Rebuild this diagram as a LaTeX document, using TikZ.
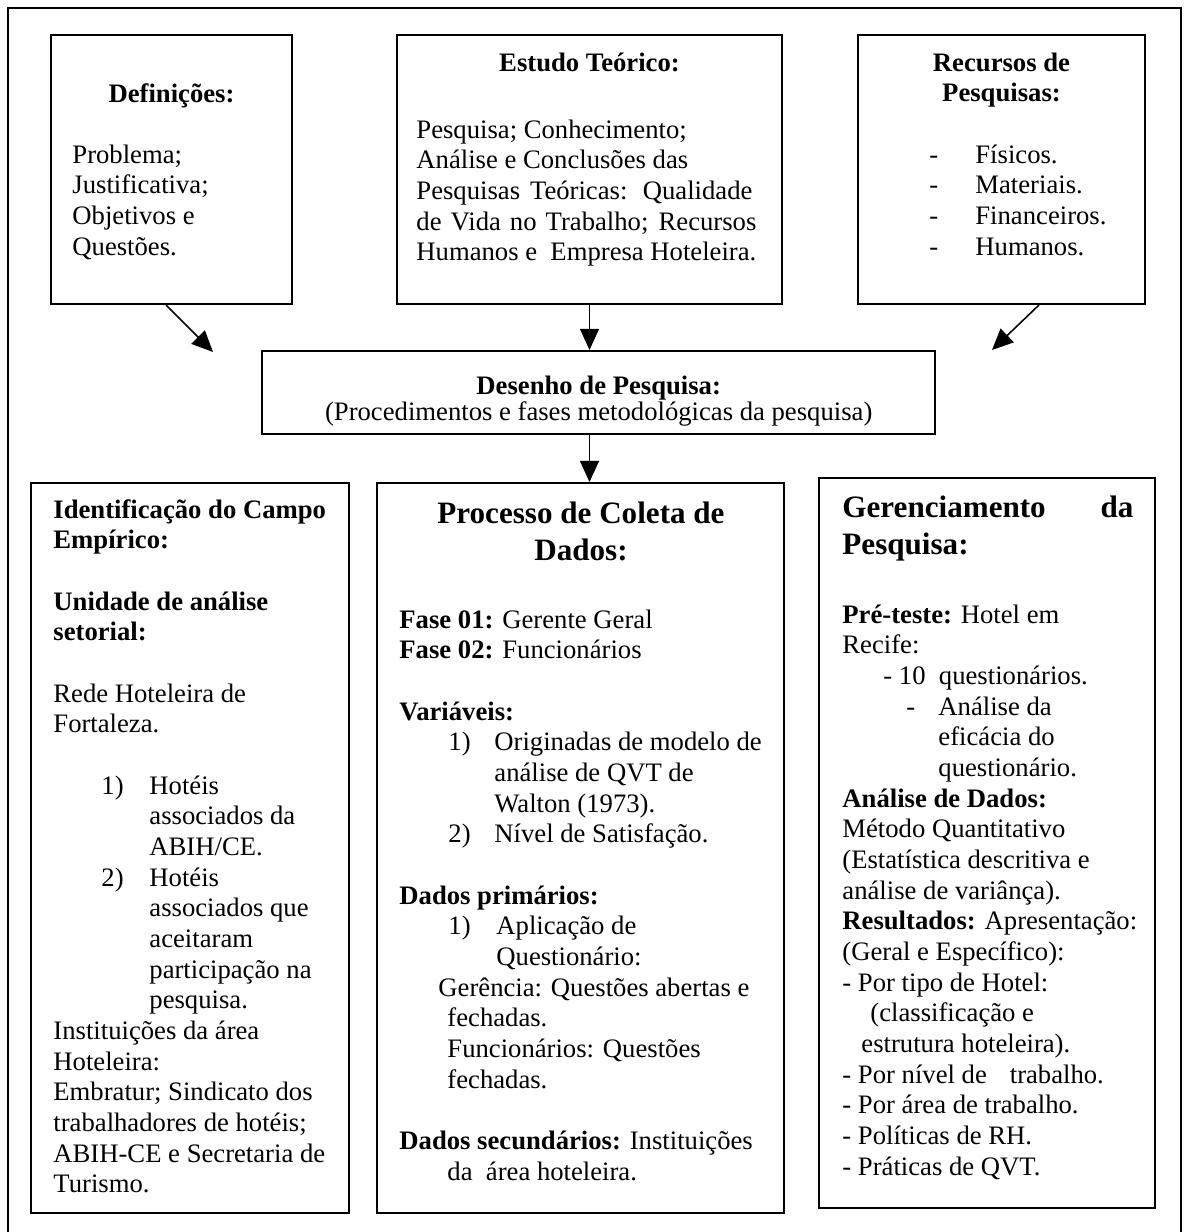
\documentclass[tikz,border=0pt]{standalone}
\usepackage{fontspec}
\setmainfont{Liberation Serif}
\usetikzlibrary{arrows.meta,fit,calc}
\newlength\pxu
\setlength\pxu{0.45pt}
\tikzset{
  boxline/.style={draw, line width=0.9pt, inner sep=0pt},
  txt/.style={anchor=base west, inner sep=0pt, font=\fontsize{12}{13.8}\selectfont},
  ttl/.style={anchor=base, inner sep=0pt, font=\fontsize{12}{13.8}\selectfont\bfseries},
  bigttl/.style={inner sep=0pt, font=\fontsize{14}{16.1}\selectfont\bfseries},
  arr/.style={line width=0.7pt, -{Triangle[length=9.5pt,width=8.5pt]}},
  frameline/.style={line width=0.9pt},
}
\newcommand\tlines[4]{\foreach \lineT [count=\lineI] in {#4} {\node[txt] (#1-\lineI) at (#2,{#3+(\lineI-1)*30.667}) {\lineT};}}
\begin{document}
\begin{tikzpicture}[x=0.45pt,y=-0.45pt]
\useasboundingbox (0,0) rectangle (1185,1232);
\draw[frameline] (8,1232) -- (8,7.5) -- (1181,7.5) -- (1181,1232);

% boxes
\node[boxline, fit={(51,35) (292,304)}] (def) {};
\node[boxline, fit={(397,35) (782,304)}] (est) {};
\node[boxline, fit={(858,35) (1145,304)}] (rec) {};
\node[boxline, fit={(262,351) (935,434)}] (des) {};
\node[boxline, fit={(31,483) (349,1213)}] (ide) {};
\node[boxline, fit={(377,483) (784,1213)}] (col) {};
\node[boxline, fit={(819,478) (1155,1208)}] (ger) {};

% connectors
\coordinate (defTip) at (213,352);
\coordinate (recTip) at (992,350);
\draw[arr] ($(def.south west)+(116,0)$) -- (defTip);
\draw[arr] ($(rec.south west)+(182,0)$) -- (recTip);
\draw[arr] (est.south) -- (est.south |- des.north);
\draw[arr] (est.south |- des.south) -- (est.south |- col.north);

% Definicoes
\node[ttl] (defT) at (171.5,102) {Definições:};
\tlines{defL}{72}{163}{{Problema;},{Justificativa;},{Objetivos e},{Questões.}}

% Estudo Teorico
\node[ttl] (estT) at (589.5,71) {Estudo Teórico:};
\tlines{estL}{416}{138}{{Pesquisa; Conhecimento;},{Análise e Conclusões das},{\makebox[336\pxu][s]{Pesquisas Teóricas: Qualidade}},{\makebox[340\pxu][s]{de Vida no Trabalho; Recursos}},{Humanos e\ \ Empresa Hoteleira.}}

% Recursos
\node[ttl] (recT1) at (1001.5,71) {Recursos de};
\node[ttl] (recT2) at (1001.5,101) {Pesquisas:};
\tlines{recL}{929}{163}{{\makebox[46\pxu][l]{-}Físicos.},{\makebox[46\pxu][l]{-}Materiais.},{\makebox[46\pxu][l]{-}Financeiros.},{\makebox[46\pxu][l]{-}Humanos.}}

% Desenho
\node[ttl] (desT) at (598.7,394) {Desenho de Pesquisa:};
\node[txt, anchor=base] (desS) at (598.7,420) {(Procedimentos e fases metodológicas da pesquisa)};

% Identificacao
\tlines{ideA}{53}{518}{{\textbf{Identificação do Campo}},{\textbf{Empírico:}}}
\tlines{ideB}{53}{610}{{\textbf{Unidade de análise}},{\textbf{setorial:}}}
\tlines{ideC}{53}{702}{{Rede Hoteleira de},{Fortaleza.}}
\tlines{ideD}{53}{794}{{\hspace*{48\pxu}\makebox[48\pxu][l]{1)}Hotéis},{\hspace*{96\pxu}associados da},{\hspace*{96\pxu}ABIH/CE.},{\hspace*{48\pxu}\makebox[48\pxu][l]{2)}Hotéis},{\hspace*{96\pxu}associados que},{\hspace*{96\pxu}aceitaram},{\hspace*{96\pxu}participação na},{\hspace*{96\pxu}pesquisa.},{Instituições da área},{Hoteleira:},{Embratur; Sindicato dos},{trabalhadores de hotéis;},{ABIH-CE e Secretaria de},{Turismo.}}

% Processo de Coleta
\node[bigttl, anchor=base] (colT1) at (581,523) {Processo de Coleta de};
\node[bigttl, anchor=base] (colT2) at (581,560) {Dados:};
\tlines{colA}{399}{628}{{\textbf{Fase 01:} Gerente Geral},{\textbf{Fase 02:} Funcionários}}
\tlines{colB}{399}{720}{{\textbf{Variáveis:}},{\hspace*{49\pxu}\makebox[46\pxu][l]{1)}Originadas de modelo de},{\hspace*{95\pxu}análise de QVT de},{\hspace*{95\pxu}Walton (1973).},{\hspace*{49\pxu}\makebox[46\pxu][l]{2)}Nível de Satisfação.}}
\tlines{colC}{399}{904}{{\textbf{Dados primários:}},{\hspace*{49\pxu}\makebox[48\pxu][l]{1)}Aplicação de},{\hspace*{97\pxu}Questionário:},{\hspace*{39\pxu}Gerência: Questões abertas e},{\hspace*{48\pxu}fechadas.},{\hspace*{48\pxu}Funcionários: Questões},{\hspace*{48\pxu}fechadas.}}
\tlines{colD}{399}{1149.4}{{\textbf{Dados secundários:} Instituições},{\hspace*{48\pxu}da\ \ área hoteleira.}}

% Gerenciamento
\node[bigttl, anchor=base west] (gerT1) at (842,517) {\makebox[291\pxu][s]{Gerenciamento da}};
\node[bigttl, anchor=base west] (gerT2) at (842,554) {Pesquisa:};
\tlines{gerL}{842}{623}{{\textbf{Pré-teste:} Hotel em},{Recife:},{\hspace*{41\pxu}-\ 10\ \ questionários.},{\hspace*{64\pxu}\makebox[32\pxu][l]{-}Análise da},{\hspace*{96\pxu}eficácia do},{\hspace*{96\pxu}questionário.},{\textbf{Análise de Dados:}},{Método Quantitativo},{(Estatística descritiva e},{análise de variânça).},{\textbf{Resultados:} Apresentação:},{(Geral e Específico):},{- Por tipo de Hotel:},{\hspace*{28\pxu}(classificação e},{\hspace*{19\pxu}estrutura hoteleira).},{- Por nível de\hspace{23\pxu}trabalho.},{- Por área de trabalho.},{- Políticas de RH.},{- Práticas de QVT.}}
\end{tikzpicture}
\end{document}
